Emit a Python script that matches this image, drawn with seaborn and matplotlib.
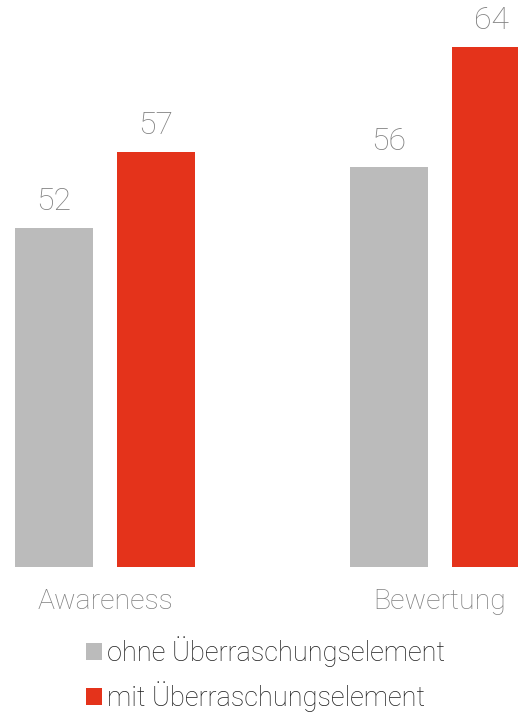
import matplotlib
matplotlib.use("Agg")
import matplotlib.pyplot as plt
import seaborn as sns
import pandas as pd

categories = ["Awareness", "Bewertung"]
series_names = ["ohne Überraschungselement", "mit Überraschungselement"]
ohne_values = [52, 56]
mit_values = [57, 64]

colors = ["#BBBBBB", "#E4331B"]

df = pd.DataFrame({
    "Kategorie": categories * 2,
    "Gruppe": [series_names[0]] * 2 + [series_names[1]] * 2,
    "Wert": ohne_values + mit_values,
})

sns.set_theme(style="white")
plt.rcParams["font.family"] = ["Roboto", "DejaVu Sans"]

fig = plt.figure(figsize=(5.18, 7.12), dpi=100)
ax = fig.add_axes([0, 0.2037, 1, 0.7963])

sns.barplot(data=df, x="Kategorie", y="Wert", hue="Gruppe",
            palette=colors, width=0.609, gap=0.235, ax=ax,
            saturation=1, edgecolor="none", linewidth=0, legend=True)

for cont in ax.containers:
    ax.bar_label(cont, fmt="%d", padding=8.5, fontsize=23,
                 color="#808080", fontweight="light")

ax.set_xlim(-0.3134, 1.2328)
ax.set_ylim(29.5, 67.1)
ax.set_xlabel("")
ax.set_ylabel("")
ax.set_yticks([])
for s in ax.spines.values():
    s.set_visible(False)
ax.tick_params(axis="x", length=0, pad=15, labelsize=20.5, labelcolor="#808080")
for lbl in ax.get_xticklabels():
    lbl.set_fontweight("light")

handles, labels = ax.get_legend_handles_labels()
ax.get_legend().remove()
leg = fig.legend(handles, labels, loc="upper left", bbox_to_anchor=(0.166, 0.106),
                 frameon=False, fontsize=19.5, handlelength=0.58, handleheight=0.58,
                 handletextpad=0.2, labelspacing=0.5, borderpad=0, borderaxespad=0)
for t in leg.get_texts():
    t.set_color("#1E1E1E")
    t.set_fontweight("light")

fig.savefig("out.png", dpi=100)
